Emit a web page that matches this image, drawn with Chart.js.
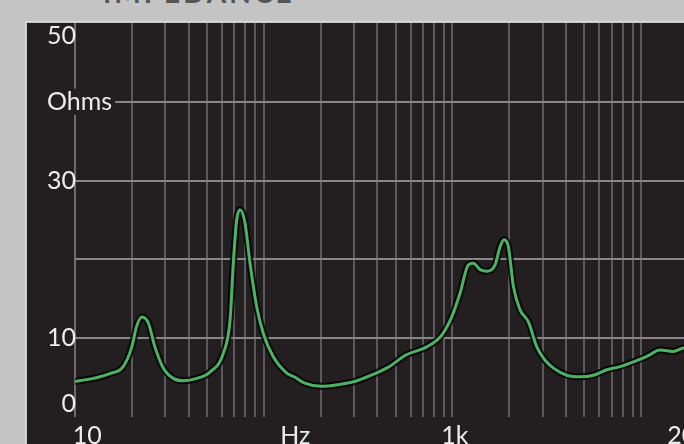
<!DOCTYPE html>
<html>
<head>
<meta charset="utf-8">
<script src="https://cdn.jsdelivr.net/npm/chart.js@4"></script>
<style>
  html, body { margin: 0; padding: 0; background: #c4c4c4; overflow: hidden; width: 684px; height: 444px; }
  #wrap { position: relative; width: 684px; height: 444px; overflow: hidden; }
  #title { position: absolute; left: 103px; top: -22px; font: bold 28px Lato, sans-serif; line-height: 28px;
           color: #555555; letter-spacing: 3px; white-space: nowrap; }
  canvas { position: absolute; left: 0; top: 0; }
</style>
</head>
<body>
<div id="wrap">
  <div id="title">IMPEDANCE</div>
  <canvas id="myChart" width="720" height="444"></canvas>
</div>
<script>
// impedance curve (Hz / ohms)
var freqHz = [10, 12.5, 15.3, 18, 20, 21.2, 22.6, 24.5, 26.5, 29.4, 33.2, 37.5, 44.2, 51.9, 61.1, 66.3,
              69, 71.9, 74.8, 79.6, 84.6, 91.8, 99.5, 112, 132, 145, 165, 202, 247, 303, 371, 455, 570,
              731, 878, 991, 1097, 1214, 1291, 1400, 1520, 1682, 1788, 1877, 1978, 2103, 2281, 2523,
              2798, 3097, 3428, 4036, 4747, 5583, 6573, 7727, 9100, 10715, 12594, 14825, 16410, 20000];
var ohms = [4.5, 4.9, 5.5, 6.4, 8.9, 11.5, 12.7, 11.9, 8.9, 6.2, 4.9, 4.6, 4.9, 5.7, 8.1, 12.3,
            19.5, 25.0, 26.3, 24.6, 19.5, 14.0, 10.6, 7.7, 5.6, 5.1, 4.3, 3.9, 4.1, 4.5, 5.3, 6.3, 7.9,
            8.9, 10.4, 12.7, 15.7, 19.3, 19.5, 18.7, 18.5, 19.3, 21.6, 22.5, 21.6, 16.6, 13.6, 12.1,
            8.9, 7.2, 6.2, 5.3, 5.1, 5.3, 6.0, 6.4, 7.0, 7.7, 8.5, 8.3, 8.7, 8.9];

var gridFreqs = [10, 20, 30, 40, 50, 60, 70, 80, 90, 100, 200, 300, 400, 500, 600, 700, 800, 900, 1000,
                 2000, 3000, 4000, 5000, 6000, 7000, 8000, 9000, 10000, 20000];
var xLabelPos = [11.6, 147, 1030, 17700];
var xLabels = ['10', 'Hz', '1k', '20k'];
var yTickLabels = { 50: ['', '50'], 40: 'Ohms', 30: '30', 20: '', 10: '10', 0: ['\u20070', ''] };

var PANEL = '#231f20';

var panel = {
  id: 'panel',
  beforeDraw: function (chart) {
    var c = chart.ctx;
    c.save();
    c.clearRect(0, 0, chart.width, chart.height);
    c.strokeStyle = '#dcdcdc';
    c.lineWidth = 1;
    c.strokeRect(25.5, 21.5, chart.width, chart.height);
    c.fillStyle = PANEL;
    c.fillRect(27, 23, chart.width, chart.height);
    c.restore();
  }
};

function pts() {
  return freqHz.map(function (f, i) { return { x: f, y: ohms[i] }; });
}

var ctx = document.getElementById('myChart');
var myChart = new Chart(ctx, {
  type: 'line',
  data: {
    datasets: [{
      data: pts(),
      borderColor: '#4cb264',
      borderWidth: 3,
      pointRadius: 0,
      cubicInterpolationMode: 'monotone',
      order: 0
    }, {
      data: pts(),
      borderColor: 'rgba(4,4,4,0.85)',
      borderWidth: 7,
      pointRadius: 0,
      cubicInterpolationMode: 'monotone',
      order: 1
    }]
  },
  options: {
    responsive: false,
    animation: false,
    devicePixelRatio: 1,
    layout: { padding: { left: 47, right: 22, top: 23, bottom: 0 } },
    plugins: { legend: { display: false }, tooltip: { enabled: false } },
    scales: {
      x: {
        type: 'logarithmic', min: 10, max: 20000,
        afterBuildTicks: function (s) { s.ticks = gridFreqs.map(function (v) { return { value: v }; }); },
        ticks: { display: false },
        grid: {
          color: function (c) { return (c.tick && c.tick.value === 10) ? '#6f6b6e' : 'rgba(140,134,140,0.55)'; },
          lineWidth: 2, drawTicks: false
        },
        border: { display: false },
        afterFit: function (s) { s.height = 0; s.paddingLeft = 0; s.paddingRight = 0; }
      },
      xl: {
        type: 'logarithmic', position: 'bottom', min: 10, max: 20000,
        afterBuildTicks: function (s) { s.ticks = xLabelPos.map(function (v) { return { value: v }; }); },
        grid: { display: false },
        border: { display: false },
        ticks: {
          autoSkip: false, maxRotation: 0, padding: -4, color: '#ececec',
          font: { family: 'Lato', size: 25 },
          callback: function (v, i) { return xLabels[i]; }
        },
        afterFit: function (s) { s.height = 27; s.paddingLeft = 0; s.paddingRight = 0; }
      },
      y: {
        min: 0, max: 50,
        ticks: {
          stepSize: 10, mirror: true, crossAlign: 'near', padding: -28, z: 1, color: '#ececec',
          font: { family: 'Lato', size: 25, lineHeight: 1.05 },
          showLabelBackdrop: true,
          backdropColor: function (c) { return (c.tick && c.tick.value === 40) ? PANEL : 'rgba(0,0,0,0)'; },
          backdropPadding: { x: 3, y: 0 },
          callback: function (v) { return yTickLabels[v]; }
        },
        grid: {
          color: function (c) { return (c.tick && (c.tick.value === 0 || c.tick.value === 50)) ? 'rgba(0,0,0,0)' : '#8a8688'; },
          lineWidth: 2, drawTicks: false
        },
        border: { display: false },
        afterFit: function (s) { s.width = 28; s.paddingTop = 0; s.paddingBottom = 0; }
      }
    }
  },
  plugins: [panel]
});
</script>
</body>
</html>
